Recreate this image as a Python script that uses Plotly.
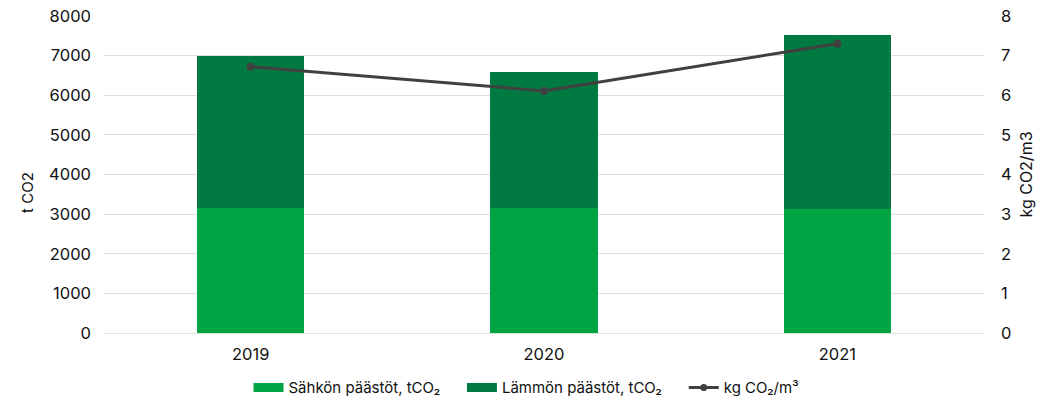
import plotly.graph_objects as go

years = ["2019", "2020", "2021"]
electricity_t = [3150, 3150, 3130]
heat_t = [3845, 3440, 4390]
intensity_kg_m3 = [6.72, 6.11, 7.30]

names = ["Sähkön päästöt, tCO₂", "Lämmön päästöt, tCO₂", "kg CO₂/m³"]

LIGHT = "#00A443"
DARK = "#007A40"
LINE = "#404040"
FONT = "Inter, Roboto, Arial, sans-serif"
GAP = "\u00a0" * 4  # extra spacing after legend labels

fig = go.Figure()
fig.add_trace(go.Bar(
    x=years, y=electricity_t, name=names[0], showlegend=False,
    marker=dict(color=LIGHT, line=dict(width=0)), width=0.365,
))
fig.add_trace(go.Bar(
    x=years, y=heat_t, name=names[1], showlegend=False,
    marker=dict(color=DARK, line=dict(width=0)), width=0.365,
))
fig.add_trace(go.Scatter(
    x=years, y=intensity_kg_m3, name=names[2], yaxis="y2",
    mode="lines+markers", showlegend=False,
    line=dict(color=LINE, width=3),
    marker=dict(color=LINE, size=8),
))

# Legend keys: wide flat rectangles for the bar series, line with dot for the ratio
for nm, col in [(names[0], LIGHT), (names[1], DARK)]:
    fig.add_trace(go.Scatter(
        x=[None], y=[None], name=nm + GAP, mode="lines",
        line=dict(color=col, width=9),
    ))
fig.add_trace(go.Scatter(
    x=[None], y=[None], name=names[2], mode="lines+markers", yaxis="y2",
    line=dict(color=LINE, width=3), marker=dict(color=LINE, size=7),
))

# Left axis title, placed a little below the middle of the plot
fig.add_annotation(
    text="t CO2", textangle=-90, showarrow=False,
    xref="paper", x=-0.0864, xanchor="center",
    yref="paper", y=0.445, yanchor="middle",
    font=dict(size=15),
)

fig.update_layout(
    width=1053, height=399,
    margin=dict(l=104, r=69, t=16, b=66, autoexpand=False),
    barmode="stack",
    paper_bgcolor="white", plot_bgcolor="white",
    font=dict(family=FONT, size=16, color="#111111"),
    showlegend=True,
    legend=dict(
        orientation="h", xref="container", x=0.5, xanchor="center",
        yref="container", y=0.028, yanchor="middle",
        font=dict(size=15), traceorder="normal", itemwidth=30,
        tracegroupgap=0,
    ),
    xaxis=dict(
        showgrid=False, showline=True, linecolor="#d9e8d0", linewidth=1,
        ticks="", tickfont=dict(size=16.5), ticklabelstandoff=6,
        automargin=False,
    ),
    yaxis=dict(
        range=[0, 8000], dtick=1000, showgrid=True, gridcolor="#dddddd",
        gridwidth=1, zeroline=False, ticks="", tickfont=dict(size=16.5),
        ticklabelstandoff=12, automargin=False,
    ),
    yaxis2=dict(
        range=[0, 8], dtick=1, overlaying="y", side="right",
        showgrid=False, zeroline=False, ticks="", tickfont=dict(size=16.5),
        ticklabelstandoff=16, automargin=False,
        title=dict(text="kg CO2/m3", font=dict(size=16), standoff=10),
    ),
)

fig.write_html("out.html")
